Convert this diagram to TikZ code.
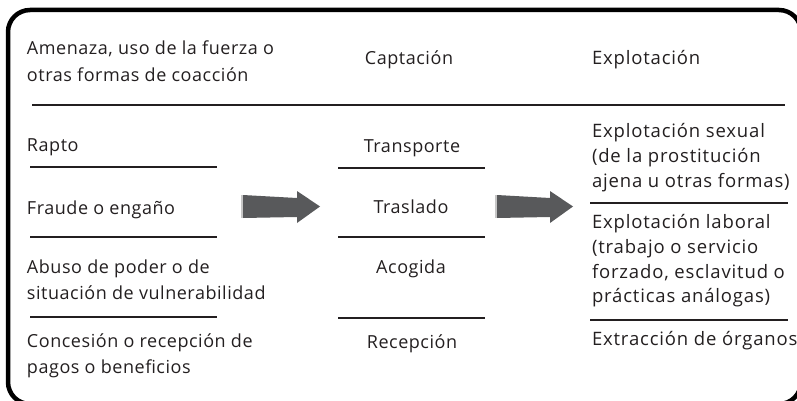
\documentclass[tikz,border=0pt]{standalone}
\usepackage{fontspec}
\setmainfont[LetterSpace=3]{Open Sans}
\definecolor{arrowgray}{HTML}{58595B}
\definecolor{inkblack}{HTML}{231F20}
\begin{document}
\begin{tikzpicture}[x=1pt,y=-1pt,
  every node/.style={inner sep=0pt, outer sep=0pt, text=inkblack, font=\fontsize{18}{26}\selectfont},
  lft/.style={anchor=base west},
  rgt/.style={anchor=base west, font=\fontsize{18.5}{25}\selectfont\addfontfeatures{LetterSpace=4.5}},
  mid/.style={anchor=base},
  rule/.style={draw=inkblack, line width=1.1pt},
  frame/.style={draw=black, line width=4.5pt, rounded corners=22pt},
  bigarrow/.style={fill=arrowgray, draw=none},
  arrowedge/.style={draw=gray!45, line width=1.5pt}]
\useasboundingbox (0,0) rectangle (797,401);
% frame
\draw[frame] (8,10) rectangle (801,404);
% header row
\node[lft] (threatA) at (27,55) {Amenaza, uso de la fuerza o};
\node[lft] (threatB) at (27,82) {otras formas de coacción};
\node[mid] (capt) at (409,65) {Captación};
\node[rgt] (explh) at (592,65) {Explotación};
\draw[rule] (32,105) -- (785,105);
% left column
\node[lft] (rapto) at (27,151) {Rapto};
\node[lft] (fraude) at (27,214) {Fraude o engaño};
\node[lft] (abusoA) at (27,273) {Abuso de poder o de};
\node[lft] (abusoB) at (27,299) {situación de vulnerabilidad};
\node[lft] (concA) at (27,347) {Concesión o recepción de};
\node[lft] (concB) at (27,373) {pagos o beneficios};
\draw[rule] (30,167) -- (217,167);
\draw[rule] (30,237) -- (217,237);
\draw[rule] (30,317) -- (217,317);
% middle column
\node[mid] (transp) at (412,152) {Transporte};
\node[mid] (trasl) at (411,213) {Traslado};
\node[mid] (acog) at (411,273) {Acogida};
\node[mid] (recep) at (412,348) {Recepción};
\draw[rule] (338,168) -- (485,168);
\draw[rule] (338,237) -- (485,237);
\draw[rule] (338,318) -- (485,318);
% right column
\node[rgt] (sexA) at (592,137) {Explotación sexual};
\node[rgt] (sexB) at (592,162) {(de la prostitución};
\node[rgt] (sexC) at (592,187) {ajena u otras formas)};
\node[rgt] (labA) at (592,228) {Explotación laboral};
\node[rgt] (labB) at (592,253) {(trabajo o servicio};
\node[rgt] (labC) at (592,278) {forzado, esclavitud o};
\node[rgt] (labD) at (592,302) {prácticas análogas)};
\node[rgt] (org) at (592,345) {Extracción de órganos};
\draw[rule] (590,203) -- (788,203);
\draw[rule] (590,320) -- (788,320);
% block arrows
\draw[arrowedge] (242,195) -- (242,218);
\fill[bigarrow] (243,195) -- (297,198) -- (297,191) -- (320,206.5) -- (297,223) -- (297,217) -- (243,218) -- cycle;
\draw[arrowedge] (496,195) -- (496,218);
\fill[bigarrow] (497,195) -- (550,198) -- (550,191) -- (573,206.5) -- (550,223) -- (550,217) -- (497,218) -- cycle;
\end{tikzpicture}
\end{document}
